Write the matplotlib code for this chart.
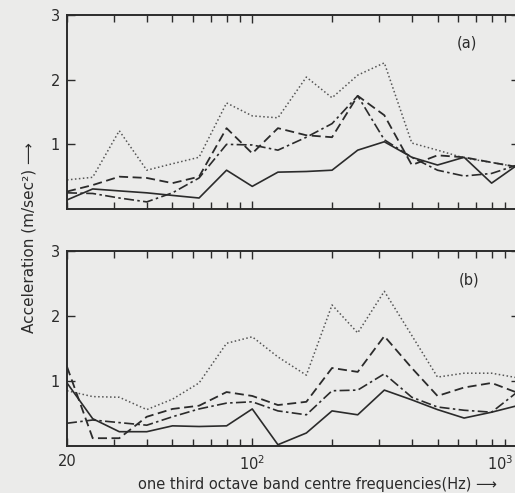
import matplotlib.pyplot as plt
from matplotlib.ticker import FixedLocator, LogLocator, NullFormatter
from matplotlib.transforms import ScaledTranslation

# one third octave band centre frequencies (Hz)
freq = [20, 25, 31.5, 40, 50, 63, 80, 100, 125, 160, 200, 250, 315, 400, 500, 630, 800, 1000]

# panel (a) accelerations, m/sec^2
a_solid = [0.14, 0.31, 0.28, 0.25, 0.21, 0.17, 0.60, 0.35, 0.57, 0.58, 0.60, 0.91, 1.04, 0.80, 0.68, 0.80, 0.40, 0.68]
a_dotted = [0.45, 0.49, 1.21, 0.60, 0.70, 0.80, 1.64, 1.44, 1.41, 2.04, 1.72, 2.07, 2.26, 1.02, 0.91, 0.79, 0.72, 0.65]
a_dashed = [0.27, 0.37, 0.50, 0.48, 0.40, 0.50, 1.25, 0.86, 1.25, 1.14, 1.11, 1.75, 1.45, 0.68, 0.83, 0.80, 0.72, 0.65]
a_dashdot = [0.25, 0.24, 0.17, 0.11, 0.25, 0.48, 1.00, 0.99, 0.91, 1.11, 1.32, 1.75, 1.07, 0.80, 0.60, 0.51, 0.55, 0.68]

# panel (b) accelerations, m/sec^2
b_solid = [0.97, 0.42, 0.22, 0.22, 0.31, 0.30, 0.31, 0.57, 0.02, 0.20, 0.54, 0.48, 0.86, 0.71, 0.56, 0.43, 0.52, 0.62]
b_dotted = [0.85, 0.76, 0.75, 0.56, 0.72, 0.97, 1.58, 1.68, 1.37, 1.09, 2.17, 1.74, 2.38, 1.70, 1.06, 1.12, 1.12, 1.05]
b_dashed = [1.22, 0.12, 0.12, 0.45, 0.57, 0.62, 0.83, 0.77, 0.63, 0.68, 1.20, 1.14, 1.69, 1.20, 0.77, 0.90, 0.97, 0.82]
b_dashdot = [0.35, 0.40, 0.36, 0.32, 0.45, 0.57, 0.66, 0.68, 0.54, 0.48, 0.85, 0.86, 1.11, 0.75, 0.60, 0.55, 0.52, 0.83]

bg = '#ebebea'
ink = '#2b2b2b'

fig = plt.figure(figsize=(5.15, 4.93), dpi=100, facecolor=bg)
W, H = 515.0, 493.0
ax_a = fig.add_axes([67 / W, 1 - 209 / H, (519 - 67) / W, 194 / H])
ax_b = fig.add_axes([67 / W, 1 - 446 / H, (519 - 67) / W, 195 / H])


def draw(ax, solid, dotted, dashed, dashdot):
    ax.set_facecolor(bg)
    ax.plot(freq, dotted, color='#555555', lw=1.1, ls=(0, (1, 1.6)))
    ax.plot(freq, dashed, color=ink, lw=1.3, ls=(0, (5, 2.5)))
    ax.plot(freq, dashdot, color=ink, lw=1.2, ls=(0, (6, 2, 1.5, 2)))
    ax.plot(freq, solid, color=ink, lw=1.2)
    ax.set_xscale('log')
    ax.set_xlim(20, 1015)
    ax.set_ylim(0, 3)
    ax.xaxis.set_major_locator(FixedLocator([100, 1000]))
    ax.xaxis.set_minor_locator(LogLocator(base=10, subs=range(2, 10)))
    ax.xaxis.set_minor_formatter(NullFormatter())
    ax.set_yticks([1, 2, 3])
    ax.set_yticklabels(['1', '2', '3'])
    ax.tick_params(which='both', direction='in', top=True, right=True,
                   color=ink, labelcolor=ink, labelsize=10.5, width=1.0)
    ax.tick_params(which='major', length=6, pad=5)
    ax.tick_params(which='minor', length=5)
    for s in ax.spines.values():
        s.set_linewidth(1.4)
        s.set_color(ink)


draw(ax_a, a_solid, a_dotted, a_dashed, a_dashdot)
draw(ax_b, b_solid, b_dotted, b_dashed, b_dashdot)

ax_a.set_xticklabels([])
ax_b.xaxis.set_major_locator(FixedLocator([20, 100, 1000]))
ax_b.set_xticklabels(['20', '$10^2$', '$10^3$'])
ax_b.tick_params(axis='x', which='major', pad=6)

# keep the 10^3 label inside the right edge
last = ax_b.get_xticklabels()[-1]
last.set_ha('right')
last.set_transform(last.get_transform() + ScaledTranslation(-3 / 72, 0, fig.dpi_scale_trans))

ax_a.text(0.885, 0.83, '(a)', transform=ax_a.transAxes, fontsize=10.5, color=ink, ha='center')
ax_b.text(0.89, 0.83, '(b)', transform=ax_b.transAxes, fontsize=10.5, color=ink, ha='center')

fig.text(29 / W, 1 - 238 / H, 'Acceleration (m/sec²) ⟶', rotation=90,
         ha='center', va='center', fontsize=11, color=ink)
fig.text(318 / W, 1 - 484 / H, 'one third octave band centre frequencies(Hz) ⟶',
         ha='center', va='center', fontsize=10.5, color=ink)

fig.savefig('out.png', dpi=100, facecolor=bg)
